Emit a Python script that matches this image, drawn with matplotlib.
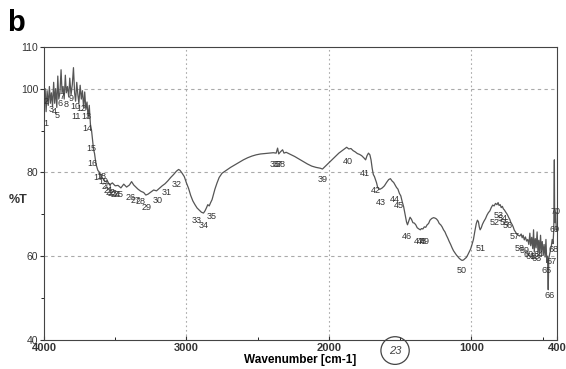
import matplotlib
matplotlib.use("Agg")
import matplotlib.pyplot as plt
from matplotlib.patches import Ellipse

plt.rcParams['font.family'] = ['Liberation Sans', 'DejaVu Sans']

# IR spectrum, wavenumber (cm-1) vs transmittance (%T)
wavenumber = [
    4000, 3998, 3992, 3985, 3978, 3970, 3962, 3955, 3948, 3940, 3932, 3925,
    3918, 3910, 3903, 3896, 3888, 3880, 3873, 3866, 3858, 3850, 3843, 3835,
    3826, 3819, 3810, 3801, 3793, 3785, 3778, 3770, 3762, 3755, 3746, 3738,
    3730, 3722, 3714, 3706, 3698, 3690, 3682, 3674, 3666, 3660, 3652, 3645,
    3635, 3622, 3610, 3598, 3585, 3570, 3555, 3540, 3520, 3500, 3480, 3460,
    3440, 3420, 3400, 3385, 3370, 3355, 3340, 3320, 3300, 3285, 3270, 3250,
    3230, 3210, 3190, 3170, 3150, 3130, 3110, 3090, 3070, 3055, 3045, 3030,
    3015, 3000, 2985, 2970, 2955, 2940, 2925, 2910, 2895, 2880, 2870, 2860,
    2850, 2840, 2830, 2820, 2810, 2800, 2785, 2770, 2750, 2720, 2690, 2660,
    2630, 2600, 2570, 2540, 2510, 2480, 2450, 2420, 2390, 2370, 2360, 2352,
    2340, 2325, 2315, 2300, 2270, 2240, 2210, 2180, 2150, 2120, 2090, 2060,
    2045, 2030, 2010, 1990, 1970, 1950, 1930, 1910, 1890, 1875, 1860, 1845,
    1830, 1815, 1800, 1785, 1770, 1755, 1742, 1732, 1722, 1712, 1704, 1696,
    1688, 1680, 1672, 1665, 1658, 1650, 1640, 1625, 1610, 1595, 1580, 1568,
    1555, 1545, 1535, 1525, 1515, 1505, 1495, 1485, 1475, 1465, 1455, 1448,
    1440, 1430, 1420, 1410, 1400, 1390, 1380, 1368, 1358, 1350, 1340, 1330,
    1320, 1310, 1300, 1290, 1278, 1265, 1255, 1245, 1235, 1225, 1215, 1205,
    1195, 1185, 1175, 1165, 1155, 1145, 1135, 1125, 1115, 1105, 1095, 1085,
    1075, 1065, 1055, 1045, 1035, 1025, 1015, 1005, 995, 985, 975, 965,
    957, 950, 944, 938, 930, 922, 912, 900, 890, 880, 870, 860,
    850, 840, 830, 820, 812, 805, 797, 790, 782, 775, 767, 760,
    752, 745, 737, 730, 722, 714, 706, 698, 690, 680, 670, 660,
    650, 643, 636, 628, 620, 612, 604, 596, 589, 583, 576, 569,
    563, 558, 551, 545, 538, 532, 526, 520, 514, 508, 502, 495,
    489, 482, 476, 470, 465, 460, 456, 450, 444, 438, 432, 426,
    421, 417, 415, 412, 408, 404, 400,
]
transmittance = [
    97.7, 96.0, 100.0, 94.5, 99.5, 96.0, 100.5, 96.5, 99.0, 95.8, 101.5, 96.5,
    100.0, 95.5, 103.0, 97.5, 99.0, 104.5, 99.0, 100.5, 97.5, 103.2, 99.0, 100.5,
    98.0, 102.5, 98.5, 101.0, 105.0, 99.0, 97.0, 101.5, 98.5, 96.5, 100.8, 97.5,
    99.5, 95.5, 99.2, 95.0, 96.8, 93.0, 96.0, 91.5, 90.0, 88.0, 85.5, 84.5,
    82.0, 80.5, 80.0, 79.0, 78.5, 77.8, 78.0, 77.0, 77.5, 76.8, 76.9, 76.3,
    77.2, 76.5, 77.0, 77.8, 77.0, 76.5, 76.0, 75.5, 75.2, 74.6, 74.8, 75.3,
    75.8, 75.6, 76.2, 76.8, 77.3, 78.0, 78.8, 79.5, 80.3, 80.7, 80.5, 79.8,
    79.0, 77.5, 76.2, 74.5, 73.2, 72.3, 71.5, 71.0, 70.5, 70.3, 70.8, 71.5,
    72.3, 72.0, 72.8, 73.5, 74.8, 76.0, 77.5, 78.8, 79.8, 80.5, 81.2, 81.8,
    82.4, 83.0, 83.5, 83.9, 84.2, 84.4, 84.5, 84.6, 84.7, 84.6, 85.8, 84.4,
    84.9, 85.4, 84.6, 84.8, 84.3, 83.8, 83.2, 82.6, 82.0, 81.5, 81.2, 81.0,
    80.8, 81.3, 82.0, 82.6, 83.3, 84.0, 84.6, 85.1, 85.6, 86.0, 85.6, 85.7,
    85.2, 84.9, 84.5, 84.3, 84.0, 83.5, 83.0, 84.0, 84.6, 84.2, 83.0, 81.0,
    79.5, 79.0, 78.2, 77.5, 76.5, 76.0, 76.0, 76.3, 76.8, 77.6, 78.3, 78.5,
    77.9, 77.6, 77.0, 76.4, 76.0, 75.0, 74.4, 73.0, 71.8, 70.0, 68.2, 67.5,
    68.3, 69.3, 68.8, 68.0, 67.9, 67.5, 66.8, 66.5, 66.3, 66.6, 66.5, 67.0,
    66.9, 67.5, 67.8, 68.6, 69.0, 69.2, 69.1, 68.9, 68.5, 67.8, 67.5, 67.0,
    66.3, 65.8, 65.0, 64.3, 63.5, 62.8, 62.0, 61.3, 60.8, 60.3, 59.9, 59.5,
    59.2, 59.0, 59.1, 59.4, 59.7, 60.3, 61.0, 61.7, 62.8, 64.0, 66.0, 67.8,
    68.6, 68.2, 67.0, 66.3, 66.8, 67.6, 68.3, 69.0, 69.8, 70.4, 70.8, 71.6,
    72.2, 72.0, 72.6, 72.3, 72.8, 72.1, 72.3, 71.6, 71.9, 71.3, 71.0, 70.6,
    70.2, 69.8, 69.2, 68.8, 68.0, 67.6, 67.0, 66.2, 65.8, 65.2, 65.0, 64.8,
    65.3, 64.4, 65.0, 63.9, 64.6, 63.6, 64.0, 62.8, 65.5, 62.5, 64.5, 61.8,
    66.3, 61.0, 64.2, 62.0, 65.8, 60.8, 63.8, 60.5, 65.0, 61.2, 63.5, 60.2,
    62.8, 59.8, 64.0, 58.5, 60.0, 52.0, 59.5, 60.5, 61.5, 62.5, 64.0, 63.0,
    66.5, 83.0, 70.0, 68.0, 70.5, 67.0, 66.0,
]

# peak numbers and where they are printed
peak_no = list(range(1, 71))
peak_wn = [
    3984, 3988, 3953, 3929, 3906, 3889, 3871, 3847, 3807, 3781,
    3776, 3741, 3706, 3694, 3670, 3659, 3617, 3600, 3583, 3560,
    3546, 3536, 3518, 3499, 3475, 3395, 3358, 3325, 3282, 3205,
    3137, 3066, 2929, 2882, 2823, 2380, 2360, 2335, 2047, 1866,
    1748, 1670, 1635, 1536, 1506, 1451, 1370, 1348, 1325, 1066,
    936, 839, 811, 781, 765, 745, 698, 659, 623, 600,
    581, 557, 541, 529, 475, 451, 440, 423, 416, 411,
]
peak_t = [
    91.7, 96.9, 94.9, 94.5, 93.7, 96.5, 98.1, 96.1, 97.7, 95.7,
    93.3, 95.3, 93.3, 90.5, 85.8, 82.2, 78.8, 79.1, 77.8, 76.6,
    75.6, 75.2, 75.0, 74.8, 74.7, 74.1, 73.4, 73.1, 71.7, 73.2,
    75.2, 77.2, 68.5, 67.4, 69.4, 81.8, 81.8, 81.8, 78.4, 82.6,
    79.8, 75.8, 72.8, 73.6, 72.2, 64.8, 63.6, 63.6, 63.6, 56.7,
    61.9, 68.1, 69.6, 69.0, 68.0, 67.4, 64.8, 61.9, 61.3, 60.5,
    60.0, 60.0, 59.5, 60.3, 56.5, 50.7, 58.7, 61.5, 66.3, 70.6,
]

fig = plt.figure(figsize=(5.66, 3.69), dpi=100)
ax = fig.add_axes([0.0777, 0.0786, 0.906, 0.7948])

ax.plot(wavenumber, transmittance, color='#555555', lw=0.9)

for n, w, t in zip(peak_no, peak_wn, peak_t):
    ax.text(w, t, str(n), fontsize=6.5, color='#333333', ha='center', va='center')

ax.set_xlim(4000, 400)
ax.set_ylim(40, 110)
ax.set_xticks([4000, 3000, 2000, 1000, 400])
ax.set_xticks([3500, 2500, 1500, 500], minor=True)
ax.set_yticks([40, 60, 80, 100, 110])
ax.set_yticks([50, 70, 90], minor=True)
ax.tick_params(axis='x', direction='in', length=3, labelsize=8, pad=2, colors='#333333')
ax.tick_params(axis='x', which='minor', direction='in', length=2)
ax.tick_params(axis='y', direction='out', length=3, labelsize=7.5, pad=1, colors='#333333')
ax.tick_params(axis='y', which='minor', direction='out', length=2)
for lbl in ax.get_xticklabels():
    lbl.set_fontweight('bold')

for g in [100, 80, 60]:
    ax.axhline(g, color='#aaaaaa', lw=0.8, ls=(0, (3, 3)), zorder=0)
for g in [3000, 2000, 1000]:
    ax.axvline(g, color='#aaaaaa', lw=0.8, ls=(0, (1.5, 2.5)), zorder=0)

for s in ax.spines.values():
    s.set_color('#444444')
    s.set_linewidth(0.8)

ax.set_xlabel('Wavenumber [cm-1]', fontsize=8.5, fontweight='bold', labelpad=1)
fig.text(0.016, 0.458, '%T', fontsize=9, fontweight='bold', va='center', ha='left',
         color='#333333')
fig.text(0.012, 0.975, 'b', fontsize=21, fontweight='bold', va='top', ha='left')

# handwritten sample number in the margin
fig.patches.append(Ellipse((0.698, 0.05), 0.05, 0.075, transform=fig.transFigure,
                           fill=False, ec='#444444', lw=0.9))
fig.text(0.698, 0.05, '23', fontsize=8, ha='center', va='center', color='#444444',
         style='italic')

fig.savefig('out.png', dpi=100)
